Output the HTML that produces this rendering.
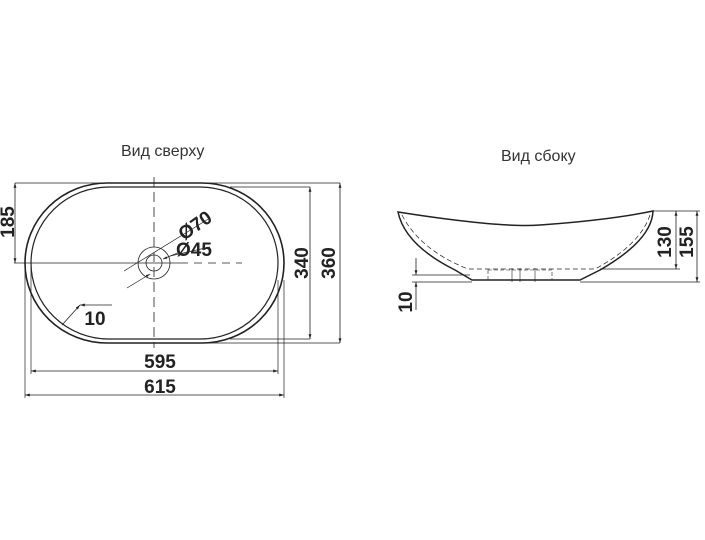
<!DOCTYPE html>
<html><head><meta charset="utf-8"><style>
html,body{margin:0;padding:0;background:#fff;}
svg{display:block;font-family:"Liberation Sans",sans-serif;}
.d{font-weight:bold;font-size:19px;fill:#222;}
</style></head><body>
<svg width="705" height="540" viewBox="0 0 705 540" xmlns="http://www.w3.org/2000/svg">
<defs><marker id="a" viewBox="0 0 10 10" refX="10" refY="5" markerWidth="6" markerHeight="6" orient="auto-start-reverse"><path d="M0,2 L10,5 L0,8 z" fill="#222"/></marker></defs>
<text x="121" y="156" font-size="16" fill="#333">Вид сверху</text>
<text x="501" y="161" font-size="16" fill="#333">Вид сбоку</text>
<g fill="none" stroke="#222">
<rect x="25" y="183" width="259" height="160" rx="82" ry="80" stroke-width="1.6"/>
<rect x="31" y="187" width="247" height="152" rx="78" ry="76" stroke-width="1.2"/>
<circle cx="154" cy="263" r="16" stroke-width="0.8"/>
<circle cx="154" cy="263" r="8" stroke-width="0.8"/>
<line x1="14" y1="263" x2="180" y2="263" stroke-width="0.8"/>
<line x1="180" y1="263" x2="242" y2="263" stroke-width="0.8" stroke-dasharray="8,6"/>
<line x1="154" y1="177" x2="154" y2="348" stroke-width="0.8" stroke-dasharray="10,5"/>
<line x1="15" y1="183" x2="340" y2="183" stroke-width="0.7"/>
<line x1="230" y1="187" x2="310" y2="187" stroke-width="0.7"/>
<line x1="230" y1="339" x2="310" y2="339" stroke-width="0.7"/>
<line x1="200" y1="343" x2="340" y2="343" stroke-width="0.7"/>
<line x1="15" y1="183" x2="15" y2="263" stroke-width="0.8" marker-start="url(#a)" marker-end="url(#a)"/>
<line x1="310" y1="187" x2="310" y2="339" stroke-width="0.8" marker-start="url(#a)" marker-end="url(#a)"/>
<line x1="340" y1="183" x2="340" y2="343" stroke-width="0.8" marker-start="url(#a)" marker-end="url(#a)"/>
<line x1="31" y1="263" x2="31" y2="374" stroke-width="0.7"/>
<line x1="278" y1="280" x2="278" y2="374" stroke-width="0.7"/>
<line x1="25" y1="263" x2="25" y2="398" stroke-width="0.7"/>
<line x1="284" y1="280" x2="284" y2="398" stroke-width="0.7"/>
<line x1="31" y1="371" x2="278" y2="371" stroke-width="0.8" marker-start="url(#a)" marker-end="url(#a)"/>
<line x1="25" y1="395" x2="284" y2="395" stroke-width="0.8" marker-start="url(#a)" marker-end="url(#a)"/>
<line x1="124" y1="271" x2="210" y2="218" stroke-width="0.7"/>
<line x1="127" y1="288" x2="150" y2="274" stroke-width="0.7" marker-end="url(#a)"/>
<line x1="170" y1="256" x2="210" y2="247" stroke-width="0.7"/>
<line x1="180" y1="252" x2="163" y2="259" stroke-width="0.7" marker-end="url(#a)"/>
<line x1="62" y1="325" x2="80" y2="305" stroke-width="0.8" marker-end="url(#a)"/>
<line x1="80" y1="305" x2="112" y2="305" stroke-width="0.8" marker-start="url(#a)"/>
<path d="M398,212 Q500,228 540,225 Q610,220 653,211 Q652,240 600,270 L580,280 L472,280 L455,270 Q405,245 398,212 Z" stroke-width="1.5"/>
<path d="M402,215 Q420,250 468,269 L595,269 Q640,245 650,215" stroke-width="0.7" stroke-dasharray="5,3"/>
<rect x="488" y="270" width="64" height="10" stroke-width="0.6" stroke-dasharray="4,2"/>
<line x1="512" y1="268" x2="512" y2="282" stroke-width="0.6"/>
<line x1="520" y1="268" x2="520" y2="282" stroke-width="0.6"/>
<line x1="535" y1="268" x2="535" y2="282" stroke-width="0.6"/>
<line x1="600" y1="269" x2="680" y2="269" stroke-width="0.7"/>
<line x1="653" y1="211" x2="700" y2="211" stroke-width="0.7"/>
<line x1="580" y1="282" x2="700" y2="282" stroke-width="0.7"/>
<line x1="412" y1="275" x2="470" y2="275" stroke-width="0.7"/>
<line x1="412" y1="282" x2="472" y2="282" stroke-width="0.7"/>
<line x1="676" y1="211" x2="676" y2="269" stroke-width="0.8" marker-start="url(#a)" marker-end="url(#a)"/>
<line x1="697" y1="211" x2="697" y2="282" stroke-width="0.8" marker-start="url(#a)" marker-end="url(#a)"/>
<line x1="416" y1="258" x2="416" y2="275" stroke-width="0.8" marker-end="url(#a)"/>
<line x1="416" y1="310" x2="416" y2="282" stroke-width="0.8" marker-end="url(#a)"/>
</g>
<text class="d" x="160" y="368" text-anchor="middle">595</text>
<text class="d" x="160" y="393" text-anchor="middle">615</text>
<text class="d" x="95" y="325" text-anchor="middle">10</text>
<text class="d" transform="translate(14,222) rotate(-90)" text-anchor="middle">185</text>
<text class="d" transform="translate(308,263) rotate(-90)" text-anchor="middle">340</text>
<text class="d" transform="translate(335,263) rotate(-90)" text-anchor="middle">360</text>
<text class="d" font-size="16" transform="translate(184,241) rotate(-35)">Ø70</text>
<text class="d" font-size="16" x="176" y="256">Ø45</text>
<text class="d" transform="translate(671,242) rotate(-90)" text-anchor="middle">130</text>
<text class="d" transform="translate(693,242) rotate(-90)" text-anchor="middle">155</text>
<text class="d" transform="translate(412,302) rotate(-90)" text-anchor="middle">10</text>
</svg>
</body></html>
